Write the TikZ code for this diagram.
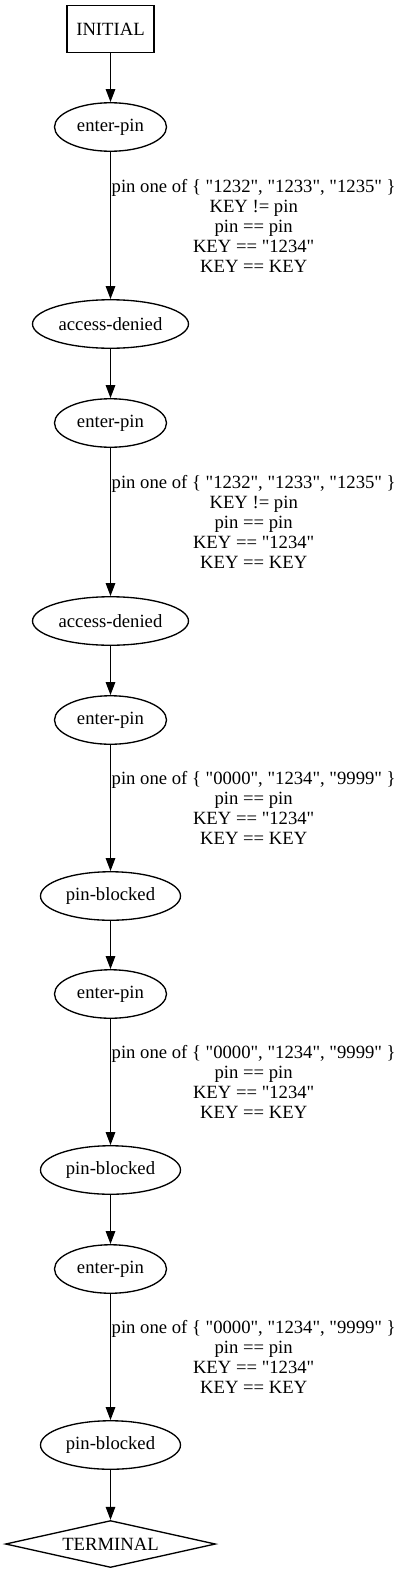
\documentclass[tikz,border=0pt]{standalone}
\usepackage{fontspec}
\setmainfont{Liberation Serif}[Ligatures=TeXOff]
\usetikzlibrary{shapes.geometric,arrows.meta}
\begin{document}
\begin{tikzpicture}[x=1pt,y=1pt,
  every node/.style={font=\fontsize{18.67}{20}\selectfont},
  box/.style={draw, line width=1.33pt, rectangle, minimum width=87pt, minimum height=47pt, inner sep=0pt},
  state/.style={draw, line width=1.33pt, ellipse, minimum height=48.5pt, inner sep=0pt},
  term/.style={draw, line width=1.33pt, diamond, aspect=4.47, minimum width=210pt, minimum height=47pt, inner sep=0pt},
  edge/.style={line width=1.33pt, -{Triangle[length=13pt,width=9.5pt]}},
  lbl/.style={anchor=west, align=center, inner sep=0pt, xshift=0.5pt}
]
\useasboundingbox (0,0) rectangle (400,-1573);
\node[box] (init) at (110.5,-29) {INITIAL};
\node[state, minimum width=112pt] (ep1) at (110.5,-127) {enter-pin};
\node[state, minimum width=156pt] (ad1) at (110.5,-324) {access-denied};
\node[state, minimum width=112pt] (ep2) at (110.5,-423) {enter-pin};
\node[state, minimum width=156pt] (ad2) at (110.5,-621) {access-denied};
\node[state, minimum width=112pt] (ep3) at (110.5,-720) {enter-pin};
\node[state, minimum width=140pt] (pb1) at (110.5,-896) {pin-blocked};
\node[state, minimum width=112pt] (ep4) at (110.5,-994) {enter-pin};
\node[state, minimum width=140pt] (pb2) at (110.5,-1170) {pin-blocked};
\node[state, minimum width=112pt] (ep5) at (110.5,-1269) {enter-pin};
\node[state, minimum width=140pt] (pb3) at (110.5,-1445) {pin-blocked};
\node[term] (term) at (110.5,-1544) {TERMINAL};

\draw[edge] (init) -- (ep1);
\draw[edge] (ep1) -- node[lbl]{pin one of \{ "1232", "1233", "1235" \}\\KEY != pin\\pin == pin\\KEY == "1234"\\KEY == KEY} (ad1);
\draw[edge] (ad1) -- (ep2);
\draw[edge] (ep2) -- node[lbl]{pin one of \{ "1232", "1233", "1235" \}\\KEY != pin\\pin == pin\\KEY == "1234"\\KEY == KEY} (ad2);
\draw[edge] (ad2) -- (ep3);
\draw[edge] (ep3) -- node[lbl]{pin one of \{ "0000", "1234", "9999" \}\\pin == pin\\KEY == "1234"\\KEY == KEY} (pb1);
\draw[edge] (pb1) -- (ep4);
\draw[edge] (ep4) -- node[lbl]{pin one of \{ "0000", "1234", "9999" \}\\pin == pin\\KEY == "1234"\\KEY == KEY} (pb2);
\draw[edge] (pb2) -- (ep5);
\draw[edge] (ep5) -- node[lbl]{pin one of \{ "0000", "1234", "9999" \}\\pin == pin\\KEY == "1234"\\KEY == KEY} (pb3);
\draw[edge] (pb3) -- (term);
\end{tikzpicture}
\end{document}
